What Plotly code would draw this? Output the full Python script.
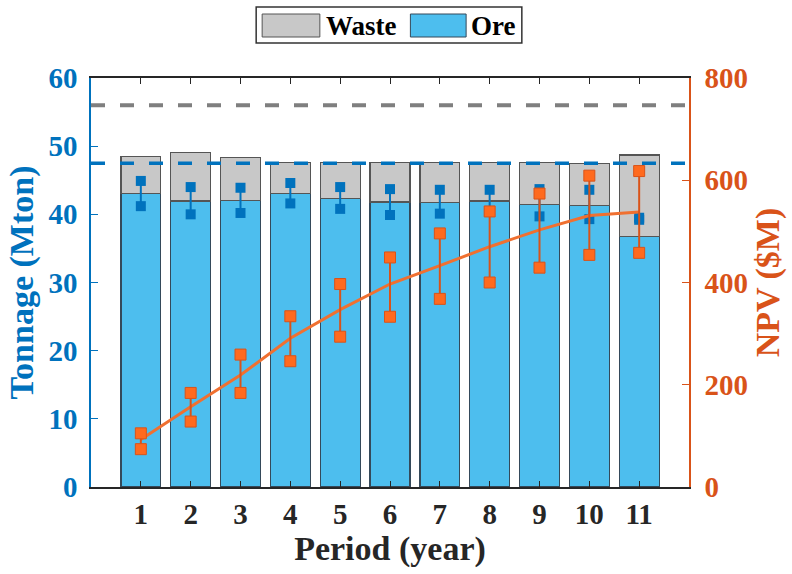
import plotly.graph_objects as go

periods = [1, 2, 3, 4, 5, 6, 7, 8, 9, 10, 11]
ore = [43.0, 41.95, 42.0, 43.1, 42.35, 41.8, 41.7, 41.95, 41.5, 41.3, 36.7]
total = [48.45, 49.1, 48.3, 47.6, 47.6, 47.6, 47.6, 47.6, 47.6, 47.5, 48.7]
waste = [t - o for t, o in zip(total, ore)]

ore_hi = [44.9, 44.0, 43.9, 44.6, 44.0, 43.7, 43.6, 43.6, 43.7, 43.6, 39.5]
ore_lo = [41.2, 40.0, 40.2, 41.6, 40.8, 39.9, 40.1, 40.5, 39.7, 39.3, 39.2]

npv = [93, 157, 219, 291, 347, 397, 433, 470, 503, 531, 538]
npv_hi = [105, 184, 259, 334, 397, 449, 496, 539, 574, 609, 618]
npv_lo = [74, 128, 184, 246, 294, 333, 368, 400, 429, 454, 458]

cap_total = 56
cap_ore = 47.5

BLUE = "#0072BD"
ORANGE = "#D95319"
FONT = "Liberation Serif, Times New Roman, Times, DejaVu Serif, serif"

# plot area in pixels
L, R, T, B = 91, 692, 78, 487
W, H = 792, 574


def px(xp):
    return (xp - L) / (R - L)


def py(yp):
    return (B - yp) / (B - T)


def seg(xs, lo, hi):
    X, Y = [], []
    for x, a, b in zip(xs, lo, hi):
        X += [x, x, None]
        Y += [a, b, None]
    return X, Y


fig = go.Figure()
fig.add_trace(go.Bar(x=periods, y=ore, name="Ore", marker=dict(color="#4DBEEE", line=dict(color="#34495a", width=1.2)),
                     width=0.8, showlegend=False))
fig.add_trace(go.Bar(x=periods, y=waste, name="Waste", marker=dict(color="#C8C8C8", line=dict(color="#555555", width=1.2)),
                     width=0.8, showlegend=False))

bx, by = seg(periods, ore_lo, ore_hi)
fig.add_trace(go.Scatter(x=bx, y=by, mode="lines+markers", line=dict(color=BLUE, width=2),
                         marker=dict(symbol="square", size=10, color=BLUE), showlegend=False))

fig.add_trace(go.Scatter(x=periods, y=npv, mode="lines", line=dict(color="#F07030", width=3),
                         yaxis="y2", showlegend=False))
ox, oy = seg(periods, npv_lo, npv_hi)
fig.add_trace(go.Scatter(x=ox, y=oy, mode="lines+markers", line=dict(color=ORANGE, width=2),
                         marker=dict(symbol="square", size=11, color="#FF6A1E", line=dict(color=ORANGE, width=1)),
                         yaxis="y2", showlegend=False))

shapes = [
    dict(type="line", xref="paper", yref="y", x0=0, x1=1, y0=cap_total, y1=cap_total,
         line=dict(color="#7F7F7F", width=4, dash="14px,15px"), layer="above"),
    dict(type="line", xref="paper", yref="y", x0=0, x1=1, y0=cap_ore, y1=cap_ore,
         line=dict(color=BLUE, width=3.5, dash="14px,15px"), layer="above"),
    # legend box
    dict(type="rect", xref="paper", yref="paper", x0=px(257), x1=px(524), y0=py(43), y1=py(7),
         line=dict(color="#333333", width=1.5), fillcolor="white"),
    dict(type="rect", xref="paper", yref="paper", x0=px(263), x1=px(321), y0=py(37), y1=py(14),
         line=dict(color="#555555", width=1), fillcolor="#C8C8C8"),
    dict(type="rect", xref="paper", yref="paper", x0=px(412), x1=px(468), y0=py(37), y1=py(14),
         line=dict(color="#34495a", width=1), fillcolor="#4DBEEE"),
]

annotations = [
    dict(text="Waste", xref="paper", yref="paper", x=px(325), y=py(26), xanchor="left", yanchor="middle",
         showarrow=False, font=dict(family=FONT, size=27, color="black", weight="bold")),
    dict(text="Ore", xref="paper", yref="paper", x=px(471), y=py(26), xanchor="left", yanchor="middle",
         showarrow=False, font=dict(family=FONT, size=27, color="black", weight="bold")),
]

fig.update_layout(
    width=W, height=H,
    margin=dict(l=L, r=W - R, t=T, b=H - B, pad=0),
    paper_bgcolor="white", plot_bgcolor="white",
    font=dict(family=FONT),
    barmode="stack", bargap=0.2,
    showlegend=False,
    shapes=shapes, annotations=annotations,
    xaxis=dict(range=[0, 12], tickvals=periods, ticks="inside", ticklen=6, tickcolor="#262626",
               showline=True, linecolor="#262626", linewidth=1.5, mirror="ticks", showgrid=False, zeroline=False,
               tickfont=dict(family=FONT, size=29, color="#262626", weight="bold"),
               title=dict(text="Period (year)", font=dict(family=FONT, size=34, color="#262626", weight="bold"), standoff=8)),
    yaxis=dict(range=[0, 60], tickvals=[0, 10, 20, 30, 40, 50, 60], ticks="inside", ticklen=7, tickcolor=BLUE,
               showline=True, linecolor=BLUE, linewidth=1.5, showgrid=False, zeroline=False,
               ticklabelstandoff=6,
               tickfont=dict(family=FONT, size=29, color=BLUE, weight="bold"),
               title=dict(text="Tonnage (Mton)", font=dict(family=FONT, size=34, color=BLUE, weight="bold"), standoff=5)),
    yaxis2=dict(range=[0, 800], tickvals=[0, 200, 400, 600, 800], overlaying="y", side="right",
                ticks="inside", ticklen=7, tickcolor=ORANGE,
                showline=True, linecolor=ORANGE, linewidth=1.5, showgrid=False, zeroline=False,
                ticklabelstandoff=8,
                tickfont=dict(family=FONT, size=29, color=ORANGE, weight="bold"),
                title=dict(text="NPV ($M)", font=dict(family=FONT, size=34, color=ORANGE, weight="bold"), standoff=8)),
)

fig.write_html("out.html")
